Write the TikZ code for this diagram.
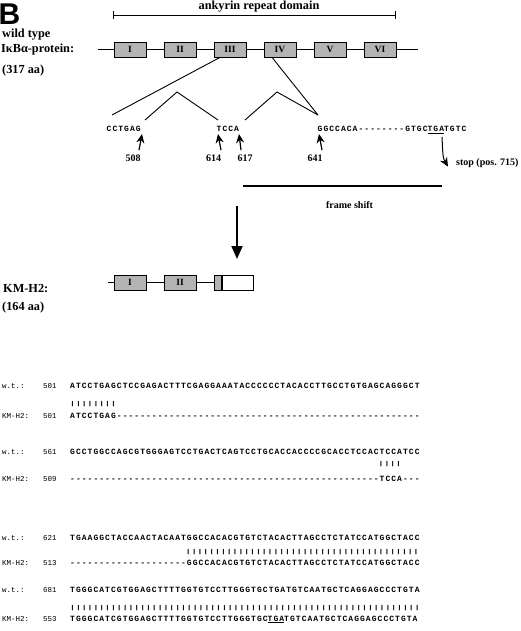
\documentclass[tikz,border=0pt]{standalone}
\usepackage{fontspec}
\setmainfont{Liberation Serif}
\setsansfont{Liberation Sans}
\newfontfamily\seqfont{Liberation Mono}[LetterSpace=13,Ligatures=TeXOff]
\newfontfamily\lblfont{Liberation Mono}[Ligatures=TeXOff]
\usepackage{graphicx}
\usetikzlibrary{arrows.meta, positioning, calc}
\definecolor{boxgray}{HTML}{B4B4B4}
\newcommand{\matchbars}[1]{\scalebox{1}[0.7]{#1}}
\newcommand{\gap}[1]{\hphantom{#1}}

\begin{document}
\begin{tikzpicture}[x=1pt, y=-1pt,
  repeat box/.style={rectangle, draw=black, line width=0.8pt, fill=boxgray, minimum width=32pt, minimum height=15pt, inner sep=0pt, font=\bfseries\fontsize{9.5}{10}\selectfont},
  title/.style={anchor=base west, inner sep=0pt, font=\bfseries\fontsize{12.3}{14}\selectfont},
  seq/.style={anchor=base west, inner sep=0pt, font=\seqfont\bfseries\fontsize{8}{9}\selectfont},
  seq label/.style={anchor=base west, inner sep=0pt, font=\lblfont\fontsize{7.5}{9}\selectfont},
  site num/.style={anchor=base, inner sep=0pt, font=\bfseries\fontsize{10}{11}\selectfont},
  pointer/.style={-{Stealth[length=9pt, width=8pt]}, line width=1.2pt},
  backbone/.style={line width=0.9pt},
]
  \useasboundingbox (0,0) rectangle (520,631);

  % Panel letter
  \node[anchor=base west, inner sep=0pt, font=\sffamily\bfseries\fontsize{30}{30}\selectfont] (panel) at (-1.5,25) {B};

  % Wild type protein
  \node[title] (wt) at (2,38) {wild type};
  \node[title] (wtprot) at (1,52.5) {IκBα-protein:};
  \node[title] (wtlen) at (2,74) {(317 aa)};

  % Ankyrin repeat domain
  \coordinate (ankL) at (113,15.5);
  \coordinate (ankR) at (396,15.5);
  \draw[{Bar[width=8pt]}-{Bar[width=8pt]}, line width=0.8pt] (ankL) -- (ankR);
  \node[site num, font=\bfseries\fontsize{12.3}{14}\selectfont] (ank) at (259,10) {ankyrin repeat domain};

  % Repeats
  \coordinate (wtL) at (98,49.5);
  \coordinate (wtR) at (418,49.5);
  \node[repeat box] (r1) at (130,49.5) {I};
  \node[repeat box] (r2) at (180,49.5) {II};
  \node[repeat box] (r3) at (230,49.5) {III};
  \node[repeat box] (r4) at (280,49.5) {IV};
  \node[repeat box] (r5) at (330,49.5) {V};
  \node[repeat box] (r6) at (380,49.5) {VI};
  \draw[backbone] (wtL) -- (r1) -- (r2) -- (r3) -- (r4) -- (r5) -- (r6) -- (wtR);

  % Breakpoints
  \node[seq] (sa) at (106.5,132) {CCTGAG};
  \node[seq] (sb) at (216.5,132) {TCCA};
  \node[seq] (sc) at (317.5,132) {GGCCACA--------GTGC\underline{TGA}TGTC};
  \coordinate (aL) at (112,115);
  \coordinate (aR) at (145,120);
  \coordinate (bL) at (218,120);
  \coordinate (bR) at (245,120);
  \coordinate (cL) at (318,115);
  \coordinate (pk1) at (177,92);
  \coordinate (pk2) at (277,92);
  \draw[backbone] ([xshift=-10pt]r3.south) -- (aL);
  \draw[backbone] ([xshift=-8pt]r4.south) -- (cL);
  \draw[backbone] (aR) -- (pk1) -- (bL);
  \draw[backbone] (bR) -- (pk2) -- (cL);

  % Positions
  \node[site num] (n508) at (133,161) {508};
  \node[site num] (n614) at (213.5,161) {614};
  \node[site num] (n617) at (245,161) {617};
  \node[site num] (n641) at (315,161) {641};
  \coordinate (t508) at (142,134);
  \coordinate (t614) at (218,134);
  \coordinate (t617) at (239,134);
  \coordinate (t641) at (319,134);
  \draw[pointer] ([xshift=6pt, yshift=4pt]n508.north) -- (t508);
  \draw[pointer] ([xshift=7.5pt, yshift=4pt]n614.north) -- (t614);
  \draw[pointer] ([xshift=-4pt, yshift=4pt]n617.north) -- (t617);
  \draw[pointer] ([xshift=7pt, yshift=4pt]n641.north) -- (t641);

  % Stop codon
  \coordinate (tga) at (442,137);
  \node[site num, anchor=base west] (stop) at (456,166) {stop (pos. 715)};
  \draw[pointer, line width=1pt] (tga) .. controls (443,158) .. ([xshift=-8pt, yshift=-3pt]stop.west);

  % Frame shift
  \coordinate (fsL) at (243,186);
  \coordinate (fsR) at (442,186);
  \draw[line width=2.2pt] (fsL) -- (fsR);
  \node[site num] (fs) at (349.5,208) {frame shift};

  % Mutation arrow
  \coordinate (mutA) at (237,206);
  \coordinate (mutB) at (237,259);
  \draw[-{Triangle[length=13pt, width=11pt]}, line width=1.8pt] (mutA) -- (mutB);

  % KM-H2 protein
  \node[title] (km) at (3,292) {KM-H2:};
  \node[title] (kmlen) at (2,310) {(164 aa)};
  \coordinate (kmL) at (108,282.5);
  \node[repeat box] (k1) at (130,282.5) {I};
  \node[repeat box] (k2) at (180,282.5) {II};
  \node[repeat box, minimum width=8pt] (k3a) at (218,282.5) {};
  \node[repeat box, minimum width=31pt, fill=white] (k3b) at (237.5,282.5) {};
  \draw[line width=2pt] (k3b.north west) -- (k3b.south west);
  \draw[backbone] (kmL) -- (k1) -- (k2) -- (k3a);

  % Alignment, 501-560
  \node[seq label] (w1) at (2,388) {w.t.:};
  \node[seq label] (wn1) at (43,388) {501};
  \node[seq] (ws1) at (70,388) {ATCCTGAGCTCCGAGACTTTCGAGGAAATACCCCCCTACACCTTGCCTGTGAGCAGGGCT};
  \node[seq] (b1) at (70,405) {\matchbars{||||||||}};
  \node[seq label] (m1) at (2,418) {KM-H2:};
  \node[seq label] (mn1) at (43,418) {501};
  \node[seq] (ms1) at (70,418) {ATCCTGAG----------------------------------------------------};

  % Alignment, 561-620
  \node[seq label] (w2) at (2,454) {w.t.:};
  \node[seq label] (wn2) at (43,454) {561};
  \node[seq] (ws2) at (70,454) {GCCTGGCCAGCGTGGGAGTCCTGACTCAGTCCTGCACCACCCCGCACCTCCACTCCATCC};
  \node[seq] (b2) at (70,465) {\gap{-----------------------------------------------------}\matchbars{||||}};
  \node[seq label] (m2) at (2,481) {KM-H2:};
  \node[seq label] (mn2) at (43,481) {509};
  \node[seq] (ms2) at (70,481) {-----------------------------------------------------TCCA---};

  % Alignment, 621-680
  \node[seq label] (w3) at (2,540) {w.t.:};
  \node[seq label] (wn3) at (43,540) {621};
  \node[seq] (ws3) at (70,540) {TGAAGGCTACCAACTACAATGGCCACACGTGTCTACACTTAGCCTCTATCCATGGCTACC};
  \node[seq] (b3) at (70,553) {\gap{--------------------}\matchbars{||||||||||||||||||||||||||||||||||||||||}};
  \node[seq label] (m3) at (2,565) {KM-H2:};
  \node[seq label] (mn3) at (43,565) {513};
  \node[seq] (ms3) at (70,565) {--------------------GGCCACACGTGTCTACACTTAGCCTCTATCCATGGCTACC};

  % Alignment, 681-740
  \node[seq label] (w4) at (2,592) {w.t.:};
  \node[seq label] (wn4) at (43,592) {681};
  \node[seq] (ws4) at (70,592) {TGGGCATCGTGGAGCTTTTGGTGTCCTTGGGTGCTGATGTCAATGCTCAGGAGCCCTGTA};
  \node[seq] (b4) at (70,609) {\matchbars{||||||||||||||||||||||||||||||||||||||||||||||||||||||||||||}};
  \node[seq label] (m4) at (2,621) {KM-H2:};
  \node[seq label] (mn4) at (43,621) {553};
  \node[seq] (ms4) at (70,621) {TGGGCATCGTGGAGCTTTTGGTGTCCTTGGGTGC\underline{TGA}TGTCAATGCTCAGGAGCCCTGTA};

\end{tikzpicture}
\end{document}
